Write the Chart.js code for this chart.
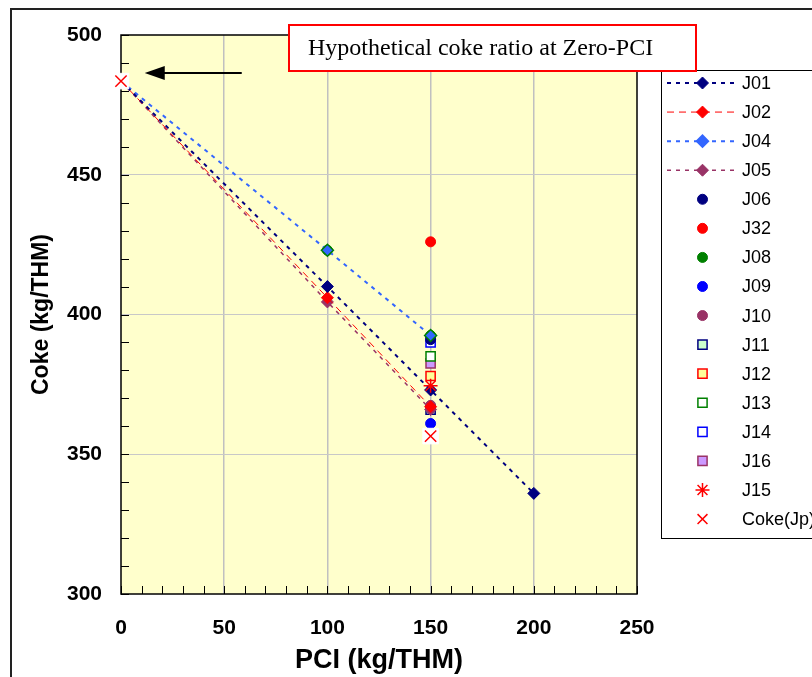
<!DOCTYPE html>
<html>
<head>
<meta charset="utf-8">
<script src="https://cdn.jsdelivr.net/npm/chart.js"></script>
<style>
  html, body { margin: 0; padding: 0; background: #fff; }
  canvas { display: block; }
</style>
</head>
<body>
<canvas id="cokeChart" width="812" height="677"></canvas>
<script>
// ---- data ----
const pciJ01 = [0, 100, 150, 200];
const cokeJ01 = [483.5, 410, 373, 336];
const pciJ02 = [0, 100, 150];
const cokeJ02 = [483.5, 406, 367];
const pciJ04 = [0, 100, 150];
const cokeJ04 = [483.5, 423, 392.5];
const pciJ05 = [0, 100, 150];
const cokeJ05 = [483.5, 404.5, 366];
const pciJ06 = [150];  const cokeJ06 = [391];
const pciJ32 = [150];  const cokeJ32 = [426];
const pciJ08 = [100, 150];  const cokeJ08 = [423, 392.5];
const pciJ09 = [150];  const cokeJ09 = [361];
const pciJ10 = [150];  const cokeJ10 = [367.5];
const pciJ11 = [150];  const cokeJ11 = [366];
const pciJ12 = [150];  const cokeJ12 = [378];
const pciJ13 = [150];  const cokeJ13 = [385];
const pciJ14 = [150];  const cokeJ14 = [390];
const pciJ16 = [150];  const cokeJ16 = [382.5];
const pciJ15 = [150];  const cokeJ15 = [374.5];
const pciCoke = [0, 150];
const cokeCoke = [483.5, 356.5];

const xTicks = [0, 50, 100, 150, 200, 250];
const yTicks = [300, 350, 400, 450, 500];

const titleText = 'Hypothetical coke ratio at Zero-PCI';
const arrowFrom = { x: 58.5, y: 486.4 };
const arrowTo = { x: 11.5, y: 486.4 };

const FONT = '"Liberation Sans", Arial, sans-serif';

function pts(xs, ys) {
  return xs.map((x, i) => ({ x: x, y: ys[i] }));
}

function series(label, xs, ys, opts) {
  return Object.assign({
    label: label,
    data: pts(xs, ys),
    showLine: false,
    clip: false,
    pointRadius: 5,
    pointHoverRadius: 5,
    pointBorderWidth: 1
  }, opts);
}

function lineSeries(label, xs, ys, color, dash, width) {
  return series(label, xs, ys, {
    showLine: true,
    borderColor: color,
    borderWidth: width,
    borderDash: dash,
    pointStyle: 'rectRot',
    pointRadius: 6,
    pointHoverRadius: 6,
    pointBackgroundColor: color,
    pointBorderColor: color
  });
}

function dotSeries(label, xs, ys, color) {
  return series(label, xs, ys, {
    pointStyle: 'circle',
    pointBackgroundColor: color,
    pointBorderColor: color
  });
}

function boxSeries(label, xs, ys, edge, fill) {
  return series(label, xs, ys, {
    pointStyle: 'rect',
    pointRadius: 6.5,
    pointHoverRadius: 6.5,
    pointBorderWidth: 1.5,
    pointBackgroundColor: fill,
    pointBorderColor: edge
  });
}

const j04 = lineSeries('J04', pciJ04, cokeJ04, '#3366FF', [4, 5], 2);
j04.pointBorderColor = '#008000';
j04.pointBorderWidth = 1.5;
j04.legendBorder = '#3366FF';

const datasets = [
  lineSeries('J01', pciJ01, cokeJ01, '#000080', [4, 5], 2),
  lineSeries('J02', pciJ02, cokeJ02, '#FF0000', [7, 5], 1),
  j04,
  lineSeries('J05', pciJ05, cokeJ05, '#993366', [4, 5], 1.5),
  dotSeries('J06', pciJ06, cokeJ06, '#000080'),
  dotSeries('J32', pciJ32, cokeJ32, '#FF0000'),
  dotSeries('J08', pciJ08, cokeJ08, '#008000'),
  dotSeries('J09', pciJ09, cokeJ09, '#0000FF'),
  dotSeries('J10', pciJ10, cokeJ10, '#993366'),
  boxSeries('J11', pciJ11, cokeJ11, '#000080', '#CCFFCC'),
  boxSeries('J12', pciJ12, cokeJ12, '#FF0000', '#FFFF99'),
  boxSeries('J13', pciJ13, cokeJ13, '#008000', '#FFFFFF'),
  boxSeries('J14', pciJ14, cokeJ14, '#0000FF', '#FFFFFF'),
  boxSeries('J16', pciJ16, cokeJ16, '#993366', '#CC99FF'),
  series('J15', pciJ15, cokeJ15, {
    pointStyle: 'star', pointRadius: 7, pointHoverRadius: 7, pointBorderWidth: 1.5,
    pointBackgroundColor: '#FF0000', pointBorderColor: '#FF0000', order: -3
  }),
  series('Coke(Jp)', pciCoke, cokeCoke, {
    pointStyle: 'crossRot', pointRadius: 8, pointHoverRadius: 8, pointBorderWidth: 1.5,
    pointBackgroundColor: '#FF0000', pointBorderColor: '#FF0000', order: -2
  }),
  // white patch behind the Coke(Jp) crosses
  series('', pciCoke, cokeCoke, {
    pointStyle: 'rect', pointRadius: 11, pointHoverRadius: 11, pointBorderWidth: 1,
    pointBackgroundColor: '#FFFFFF', pointBorderColor: '#FFFFFF', order: -1, noLegend: true
  })
];

// ---- plugins ----
const plotDecor = {
  id: 'plotDecor',
  beforeDraw(chart) {
    const { ctx, chartArea: a } = chart;
    ctx.save();
    ctx.fillStyle = '#FFFFFF';
    ctx.fillRect(0, 0, chart.width, chart.height);
    ctx.fillStyle = '#FFFFCC';
    ctx.fillRect(a.left, a.top, a.right - a.left, a.bottom - a.top);
    ctx.restore();
  },
  beforeDatasetsDraw(chart) {
    const { ctx, chartArea: a, scales } = chart;
    ctx.save();
    ctx.strokeStyle = '#000000';
    ctx.lineWidth = 1;
    ctx.beginPath();
    for (let v = 300; v <= 500; v += 10) {
      const y = Math.round(scales.y.getPixelForValue(v)) + 0.5;
      ctx.moveTo(a.left, y);
      ctx.lineTo(a.left + 8, y);
    }
    for (let v = 0; v <= 250; v += 10) {
      const x = Math.round(scales.x.getPixelForValue(v)) + 0.5;
      ctx.moveTo(x, a.bottom);
      ctx.lineTo(x, a.bottom - 8);
    }
    ctx.stroke();
    ctx.lineWidth = 1.5;
    ctx.strokeRect(a.left, a.top, a.right - a.left, a.bottom - a.top);
    ctx.restore();
  },
  afterDraw(chart) {
    const { ctx, scales } = chart;
    ctx.save();

    // outer frame
    ctx.strokeStyle = '#222222';
    ctx.lineWidth = 2;
    ctx.strokeRect(11, 9, 900, 900);

    // arrow pointing at the zero-PCI coke value
    const x1 = scales.x.getPixelForValue(arrowFrom.x);
    const x2 = scales.x.getPixelForValue(arrowTo.x);
    const ay = scales.y.getPixelForValue(arrowFrom.y);
    ctx.strokeStyle = '#000000';
    ctx.fillStyle = '#000000';
    ctx.lineWidth = 2;
    ctx.beginPath();
    ctx.moveTo(x1, ay);
    ctx.lineTo(x2 + 18, ay);
    ctx.stroke();
    ctx.beginPath();
    ctx.moveTo(x2, ay);
    ctx.lineTo(x2 + 20, ay - 7);
    ctx.lineTo(x2 + 20, ay + 7);
    ctx.closePath();
    ctx.fill();

    // legend
    const lx = 661.5, ly = 70.5;
    ctx.fillStyle = '#FFFFFF';
    ctx.fillRect(lx, ly, 200, 468);
    ctx.strokeStyle = '#000000';
    ctx.lineWidth = 1;
    ctx.strokeRect(lx, ly, 200, 468);
    ctx.font = '18px ' + FONT;
    ctx.textBaseline = 'middle';
    ctx.textAlign = 'left';
    let row = 0;
    chart.data.datasets.forEach(ds => {
      if (ds.noLegend) return;
      const y = 83 + row * 29.07;
      row++;
      if (ds.showLine) {
        ctx.save();
        ctx.strokeStyle = ds.borderColor;
        ctx.lineWidth = ds.borderWidth;
        ctx.setLineDash(ds.borderDash || []);
        ctx.beginPath();
        ctx.moveTo(667, y);
        ctx.lineTo(738, y);
        ctx.stroke();
        ctx.restore();
      }
      ctx.save();
      ctx.fillStyle = ds.pointBackgroundColor;
      ctx.strokeStyle = ds.legendBorder || ds.pointBorderColor;
      ctx.lineWidth = ds.pointBorderWidth;
      Chart.helpers.drawPoint(ctx, {
        pointStyle: ds.pointStyle,
        radius: ds.pointStyle === 'circle' ? 5 : Math.min(ds.pointRadius, 7),
        rotation: 0,
        borderWidth: ds.pointBorderWidth
      }, 702.5, y);
      ctx.restore();
      ctx.fillStyle = '#000000';
      ctx.fillText(ds.label, 742, y + 1);
    });

    // title box
    ctx.fillStyle = '#FFFFFF';
    ctx.fillRect(289, 25, 407, 46);
    ctx.strokeStyle = '#FF0000';
    ctx.lineWidth = 2;
    ctx.strokeRect(289, 25, 407, 46);
    ctx.fillStyle = '#000000';
    ctx.font = '24px "Liberation Serif", "Times New Roman", serif';
    ctx.textBaseline = 'middle';
    ctx.fillText(titleText, 308, 49);

    ctx.restore();
  }
};

new Chart(document.getElementById('cokeChart'), {
  type: 'scatter',
  data: { datasets: datasets },
  options: {
    responsive: false,
    animation: false,
    events: [],
    layout: { padding: { left: 28, top: 35, right: 175, bottom: 0 } },
    plugins: {
      legend: { display: false },
      tooltip: { enabled: false }
    },
    scales: {
      x: {
        type: 'linear',
        min: 0,
        max: 250,
        afterBuildTicks: s => { s.ticks = xTicks.map(v => ({ value: v })); },
        afterFit: s => { s.height = 83; },
        border: { display: false },
        grid: {
          drawTicks: false,
          color: c => (c.tick && c.tick.value > 0 && c.tick.value < 250) ? '#C0C0C0' : 'rgba(0,0,0,0)',
          lineWidth: 1.5
        },
        ticks: {
          padding: 22,
          color: '#000000',
          font: { family: FONT, size: 21, weight: 'bold' }
        },
        title: {
          display: true,
          text: 'PCI (kg/THM)',
          color: '#000000',
          padding: { top: 0, bottom: 0 },
          font: { family: FONT, size: 27, weight: 'bold' }
        }
      },
      y: {
        type: 'linear',
        min: 300,
        max: 500,
        afterBuildTicks: s => { s.ticks = yTicks.map(v => ({ value: v })); },
        afterFit: s => { s.width = 93; },
        border: { display: false },
        grid: {
          drawTicks: false,
          color: c => (c.tick && c.tick.value > 300 && c.tick.value < 500) ? '#C8C8C8' : 'rgba(0,0,0,0)',
          lineWidth: 1
        },
        ticks: {
          padding: 19,
          color: '#000000',
          font: { family: FONT, size: 21, weight: 'bold' }
        },
        title: {
          display: true,
          text: 'Coke (kg/THM)',
          color: '#000000',
          padding: { top: 0, bottom: 0 },
          font: { family: FONT, size: 23, weight: 'bold' }
        }
      }
    }
  },
  plugins: [plotDecor]
});
</script>
</body>
</html>
